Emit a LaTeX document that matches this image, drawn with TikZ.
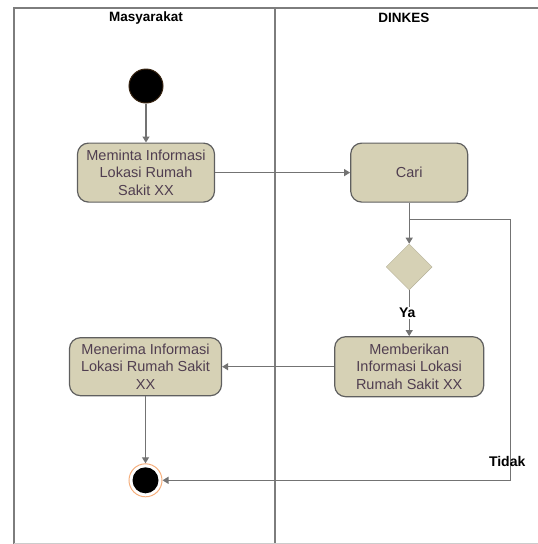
\documentclass[tikz,border=0pt]{standalone}
\usepackage{fontspec}
\setmainfont{Liberation Sans}
\usepackage{tikz}
\usetikzlibrary{arrows.meta,positioning,shapes.geometric}
\usepackage{xcolor}
\definecolor{actfill}{RGB}{214,209,181}
\definecolor{actline}{RGB}{95,95,95}
\definecolor{acttext}{RGB}{80,62,80}
\definecolor{flowline}{RGB}{115,115,115}
\definecolor{laneline}{RGB}{125,125,125}
\definecolor{endring}{RGB}{245,175,125}

\begin{document}
\begin{tikzpicture}[
        x=1pt, y=-1pt,
        node distance=40pt,
        action/.style={rectangle, rounded corners=11pt, draw=actline, line width=1.2pt, fill=actfill, text=acttext, align=center, inner sep=1pt, font=\fontsize{14.5}{17.5}\selectfont},
        decision/.style={diamond, draw=actfill!85!black, fill=actfill, inner sep=0pt, minimum width=46pt, minimum height=46pt},
        startnode/.style={circle, fill=black, draw=black!70!brown, line width=1pt, minimum size=34pt, inner sep=0pt},
        endring/.style={circle, fill=white, draw=endring, line width=1pt, minimum size=33pt, inner sep=0pt},
        enddot/.style={circle, fill=black, minimum size=26pt, inner sep=0pt},
        lane/.style={draw=laneline, line width=1.5pt},
        guard/.style={font=\fontsize{14}{16}\bfseries, text=black},
        arrow/.style={-{Triangle[width=7pt,length=6pt]}, draw=flowline, line width=1.2pt}
    ]
        \useasboundingbox (0,0) rectangle (538,544);

        % Swimlanes
        \draw[lane] (538,8) -- (14,8) -- (14,544);
        \draw[lane] (275,8) -- (275,544);
        \draw[draw=black!20, line width=1pt] (14,543) -- (538,543);
        \node[guard, font=\fontsize{13.5}{16}\bfseries] (masyarakat) at (146,18) {Masyarakat};
        \node[guard, font=\fontsize{13.5}{16}\bfseries] (dinkes) at (404,18) {DINKES};

        % Activities
        \node[startnode] (start) at (146,86) {};
        \node[action, minimum width=137pt, minimum height=59pt] (meminta) [below=39pt of start] {Meminta Informasi\\Lokasi Rumah\\Sakit XX};
        \node[action, minimum width=117pt, minimum height=59pt] (cari) [right=135pt of meminta] {Cari};
        \node[decision] (cek) [below=41pt of cari] {};
        \node[action, minimum width=149pt, minimum height=60pt] (memberikan) [below=46pt of cek] {Memberikan\\Informasi Lokasi\\Rumah Sakit XX};
        \node[action, minimum width=152pt, minimum height=58pt] (menerima) [left=112pt of memberikan] {Menerima Informasi\\Lokasi Rumah Sakit\\XX};
        \node[endring] (end) [below=67pt of menerima] {};
        \node[enddot] (enddot) at (end) {};
        \coordinate[below=17pt of cari.south] (split);

        % Arrows
        \draw[arrow] (start) -- (meminta);
        \draw[arrow] (meminta) -- (cari);
        \draw[arrow] (cari) -- (cek);
        \draw[arrow] (cek) -- node[guard, fill=white, inner sep=1pt, xshift=-2pt] (ya) {Ya} (memberikan);
        \draw[arrow] (memberikan) -- (menerima);
        \draw[arrow] (menerima) -- (end);
        \draw[arrow] (split) -- ++(101,0) |- node[guard, pos=0.5, above=10pt, xshift=-3pt] (tidak) {Tidak} (end);

    \end{tikzpicture}
\end{document}
